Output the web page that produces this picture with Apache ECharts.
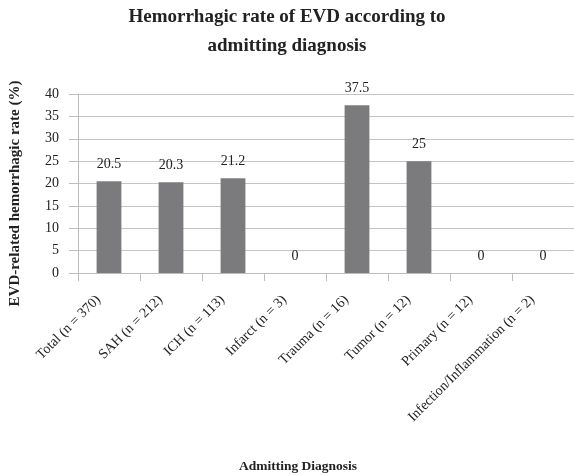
<!DOCTYPE html>
<html>
<head>
<meta charset="utf-8">
<script src="https://cdn.jsdelivr.net/npm/echarts@6/dist/echarts.min.js"></script>
<style>html,body{margin:0;padding:0;background:#fff;}#c{width:574px;height:475px;}</style>
</head>
<body>
<div id="c"></div>
<script>
const categories = ['Total (n = 370)', 'SAH (n = 212)', 'ICH (n = 113)', 'Infarct (n = 3)', 'Trauma (n = 16)', 'Tumor (n = 12)', 'Primary (n = 12)', 'Infection/Inflammation (n = 2)'];
const rates = [20.5, 20.3, 21.2, 0, 37.5, 25, 0, 0];
const yTicks = {min: 0, max: 40, interval: 5};

const serif = 'Liberation Serif';
const chart = echarts.init(document.getElementById('c'));
chart.setOption({
  animation: false,
  backgroundColor: '#fff',
  title: {
    text: 'Hemorrhagic rate of EVD according to\nadmitting diagnosis',
    left: 'center',
    top: -2,
    textStyle: {fontFamily: serif, fontWeight: 'bold', fontSize: 19, lineHeight: 29, color: '#222'}
  },
  grid: {left: 78, top: 94, right: -2, bottom: 197, containLabel: false},
  xAxis: {
    type: 'category',
    data: categories,
    name: 'Admitting Diagnosis',
    nameLocation: 'middle',
    nameGap: 187,
    nameTextStyle: {fontFamily: serif, fontWeight: 'bold', fontSize: 13.5, color: '#222', padding: [0, 56, 0, 0]},
    axisLine: {lineStyle: {color: '#bdbdbd'}},
    axisTick: {show: true, length: 8, lineStyle: {color: '#bdbdbd'}},
    axisLabel: {rotate: 45, interval: 0, margin: 14, padding: [0, 15, 0, 0], fontFamily: serif, fontSize: 14, color: '#222'}
  },
  yAxis: {
    type: 'value',
    min: yTicks.min, max: yTicks.max, interval: yTicks.interval,
    name: 'EVD-related hemorrhagic rate (%)',
    nameLocation: 'middle',
    nameGap: 55,
    nameTextStyle: {fontFamily: serif, fontWeight: 'bold', fontSize: 15, color: '#222', padding: [0, 20, 0, 0]},
    axisLine: {show: true, lineStyle: {color: '#bdbdbd'}},
    axisTick: {show: true, length: 9, lineStyle: {color: '#bdbdbd'}},
    axisLabel: {margin: 19, fontFamily: serif, fontSize: 14, color: '#222'},
    splitLine: {lineStyle: {color: '#c4c4c4'}}
  },
  series: [{
    type: 'bar',
    data: rates,
    barWidth: '40%',
    itemStyle: {color: '#7b7b7d'},
    label: {show: true, position: 'top', distance: 10, fontFamily: serif, fontSize: 14, color: '#222'}
  }]
});
</script>
</body>
</html>
